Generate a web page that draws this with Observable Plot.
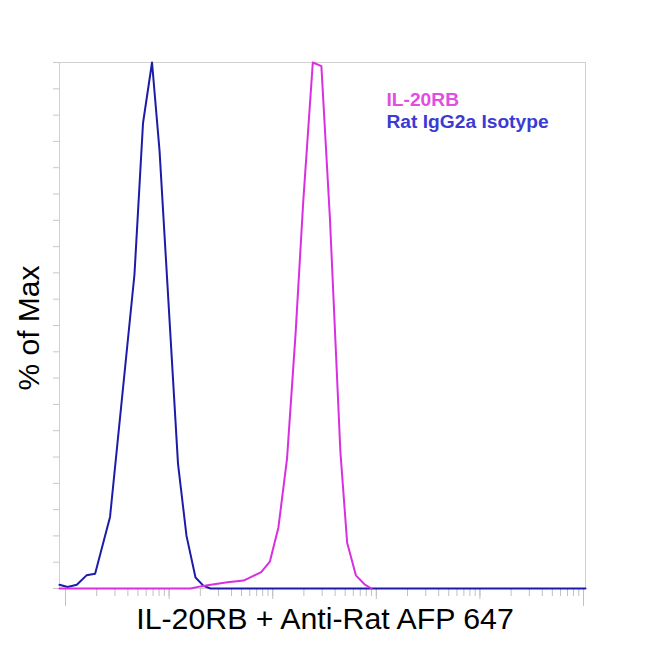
<!DOCTYPE html>
<html>
<head>
<meta charset="utf-8">
<script src="https://cdn.jsdelivr.net/npm/d3@7"></script>
<script src="https://cdn.jsdelivr.net/npm/@observablehq/plot@0.6"></script>
<style>
  html, body { margin: 0; padding: 0; background: #fff; }
  #chart { width: 650px; height: 650px; }
</style>
</head>
<body>
<div id="chart"></div>
<script>
// Isotype (blue) histogram: fluorescence intensity vs % of max
const isoX = [0.875, 1.048, 1.285, 1.595, 1.931, 2.69, 4.63, 5.60, 6.84, 8.08, 12.19, 14.72, 17.98, 21.48, 25.1, 104500];
const isoY = [0.7, 0.3, 0.7, 2.5, 2.8, 13.6, 59.7, 88.5, 100, 83.3, 23.7, 10, 2.1, 0.5, 0, 0];

// IL-20RB (magenta) histogram
const ilX = [0.875, 16.1, 20.1, 23.5, 36.6, 52.3, 77.4, 93.8, 113.5, 137.5, 166.4, 197, 243.8, 295, 357, 450, 523, 635, 769, 897];
const ilY = [0, 0, 0.4, 0.6, 1.2, 1.5, 3.1, 5.1, 11.6, 24.7, 48.6, 73.5, 100, 99.3, 70.2, 26, 8.7, 2.5, 0.8, 0];

const yTicks = [0, 5, 10, 15, 20, 25, 30, 35, 40, 45, 50, 55, 60, 65, 70, 75, 80, 85, 90, 95, 100];
const xMinorTicks = [
  1, 2, 3, 4, 5, 6, 7, 8, 9,
  10, 20, 30, 40, 50, 60, 70, 80, 90,
  100, 200, 300, 400, 500, 600, 700, 800, 900,
  1000, 2000, 3000, 4000, 5000, 6000, 7000, 8000, 9000,
  10000, 20000, 30000, 40000, 50000, 60000, 70000, 80000, 90000, 100000
];
const xDecadeTicks = [10, 100, 1000, 10000];
const xEndTicks = [1, 100000];

const seriesNames = ["IL-20RB", "Rat IgG2a Isotype"];
const seriesColors = ["#d92fe0", "#1c1ca8"];
const legendColors = ["#e24ee0", "#3b3bd4"];
const xLabel = "IL-20RB + Anti-Rat AFP 647";
const yLabel = "% of Max";

const iso = isoX.map((x, i) => ({x, y: isoY[i]}));
const il = ilX.map((x, i) => ({x, y: ilY[i]}));

const font = "'Liberation Sans', Arial, sans-serif";

const chart = Plot.plot({
  width: 650,
  height: 650,
  marginLeft: 59,
  marginRight: 65,
  marginTop: 62,
  marginBottom: 62,
  style: {fontFamily: font, background: "#fff"},
  x: {type: "log", domain: [0.875, 104500]},
  y: {domain: [0, 100]},
  marks: [
    Plot.frame({stroke: "#d0d0d0", strokeWidth: 1}),
    Plot.axisY({ticks: yTicks, tickSize: 6, tickFormat: () => "", label: null, stroke: "#c8c8c8"}),
    Plot.axisX({ticks: xMinorTicks, tickSize: 8, tickFormat: () => "", label: null, stroke: "#c0c0c0"}),
    Plot.axisX({ticks: xDecadeTicks, tickSize: 11, tickFormat: () => "", label: null, stroke: "#c0c0c0"}),
    Plot.axisX({ticks: xEndTicks, tickSize: 18, tickFormat: () => "", label: null, stroke: "#c0c0c0"}),
    Plot.line(iso, {x: "x", y: "y", stroke: seriesColors[1], strokeWidth: 2}),
    Plot.line(il, {x: "x", y: "y", stroke: seriesColors[0], strokeWidth: 2})
  ]
});

document.getElementById("chart").appendChild(chart);

const svg = d3.select(chart);
// x-axis title
svg.append("text")
  .attr("x", 325).attr("y", 629)
  .attr("text-anchor", "middle")
  .attr("font-family", font)
  .attr("font-size", 30.3)
  .attr("fill", "#000")
  .text(xLabel);
// y-axis title
svg.append("text")
  .attr("transform", "translate(38.5,328) rotate(-90)")
  .attr("text-anchor", "middle")
  .attr("font-family", font)
  .attr("font-size", 30)
  .attr("fill", "#000")
  .text(yLabel);
// legend
seriesNames.forEach((name, i) => {
  svg.append("text")
    .attr("x", 386.5).attr("y", 105.5 + i * 22.5)
    .attr("text-anchor", "start")
    .attr("font-family", font)
    .attr("font-weight", "bold")
    .attr("font-size", 19.2)
    .attr("fill", legendColors[i])
    .text(name);
});
</script>
</body>
</html>
